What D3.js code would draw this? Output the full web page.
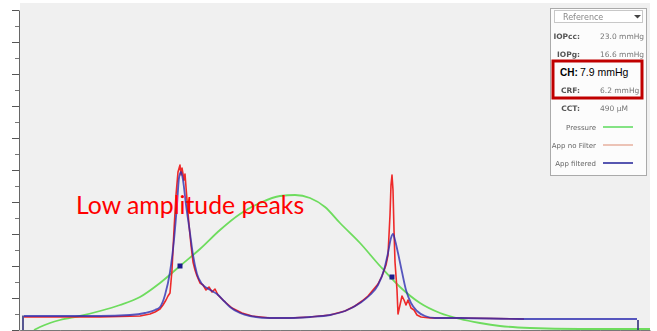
<!DOCTYPE html>
<html>
<head>
<meta charset="utf-8">
<script src="https://cdn.jsdelivr.net/npm/d3@7"></script>
<style>
  html, body { margin: 0; padding: 0; background: #ffffff; overflow: hidden; }
  svg { display: block; }
</style>
</head>
<body>
<svg id="chart" width="657" height="331"></svg>
<script>
// Waveform samples: [sample index, signal value]
const pressureCurve = [
  [7, 0], [10, 3.75], [15, 8.75], [20, 12.5], [30, 17.5], [40, 23.75], [50, 31.25],
  [60, 41.25], [70, 58.75], [80, 80], [90, 101.25], [100, 125], [110, 145],
  [120, 158.75], [130, 167.5], [137.5, 168.75], [145, 165], [152.5, 153.75],
  [160, 133.75], [170, 108.75], [180, 80], [190, 53.75], [200, 33.75], [210, 21.25],
  [220, 13.75], [230, 8.75], [240, 5], [255, 2.5], [280, 1.25], [315, 1.25]
];

const applanationRaw = [
  [2, 16.25], [40, 16.25], [60, 17.5], [65, 20], [67.5, 22.5], [70, 26.25],
  [71.5, 31.25], [73, 37.5], [74, 42.5], [75, 46.25], [76, 75], [77, 125],
  [78, 168.75], [79, 197.5], [80, 206.25], [80.5, 193.75], [81, 202.5], [82, 187.5],
  [82.5, 195], [83.5, 162.5], [84.5, 131.25], [85.5, 106.25], [86.5, 85], [87.5, 75],
  [88.5, 67.5], [90, 58.75], [91.5, 56.25], [93, 50], [94.5, 53.75], [96, 47.5],
  [97.5, 51.25], [99, 43.75], [102, 36.25], [106, 27.5], [111, 21.25], [116, 17.5],
  [125, 15], [135, 15], [145, 16.25], [155, 18.75], [162.5, 23.75], [167.5, 30],
  [171, 36.25], [174, 42.5], [176.5, 50], [179, 57.5], [181, 67.5], [183, 81.25],
  [184, 93.75], [185, 143.75], [185.5, 181.25], [186, 193.75], [186.5, 175],
  [187, 125], [187.5, 85], [188.5, 50], [189, 20], [190, 31.25], [191, 42.5],
  [192, 37.5], [193, 31.25], [194, 37.5], [195.5, 27.5], [197, 25], [198.5, 18.75],
  [200.5, 16.25], [205, 15], [220, 15], [252, 13.75]
];

const applanationFiltered = [
  [2, 17.5], [20, 17.5], [40, 17.5], [55, 18.75], [62.5, 21.25], [67.5, 25],
  [70, 28.75], [72.5, 43.75], [75, 72.5], [77, 112.5], [78.5, 156.25], [79.5, 190],
  [80.5, 197.5], [81.5, 187.5], [83, 156.25], [85, 121.25], [86.5, 93.75], [88.5, 70],
  [91, 57.5], [93.5, 52.5], [96, 48.75], [98.5, 45], [102, 36.25], [105, 28.75],
  [110, 21.25], [115, 17.5], [125, 15], [135, 15], [145, 16.25], [155, 18.75],
  [162.5, 23.75], [170, 33.75], [175, 43.75], [179, 56.25], [182, 75], [184, 96.25],
  [185.5, 115], [186.5, 120], [187.5, 112.5], [189, 96.25], [191, 72.5], [193, 50],
  [195.5, 33.75], [198.5, 23.75], [202.5, 17.5], [207.5, 15], [220, 15],
  [250, 13.75], [280, 13.75], [308.5, 13.75]
];

// Applanation event markers on the filtered signal
const applanationPoints = [[80, 80], [186, 66.25]];

// Measurement window cursors: [sample, top value]
const cursorMarks = [[1.5, 18], [309, 12.5]];

// Y tick values (minor every 20, major every 40)
const minorTicks = d3.range(0, 401, 20);
const majorTicks = d3.range(0, 401, 40);

// Legend content
const readingLabels = ["IOPcc:", "IOPg:", "CH:", "CRF:", "CCT:"];
const readingValues = ["23.0 mmHg", "16.6 mmHg", "7.9 mmHg", "6.2 mmHg", "490 \u00b5M"];
const seriesNames = ["Pressure", "App no Filter", "App filtered"];
const seriesColors = ["#66dd66", "#e8b4a4", "#2e2e9e"];
const dropdownLabel = "Reference";
const annotationText = "Low amplitude peaks";

const svg = d3.select("#chart");
const plot = { left: 20, right: 650, top: 3, bottom: 330 };

const x = d3.scaleLinear().domain([0, 315]).range([plot.left, plot.right]);
const y = d3.scaleLinear().domain([0, 400]).range([330, 10]);

const defs = svg.append("defs");
defs.append("clipPath").attr("id", "plotClip")
  .append("rect")
  .attr("x", plot.left).attr("y", plot.top)
  .attr("width", plot.right - plot.left).attr("height", plot.bottom - plot.top);
defs.append("filter").attr("id", "soft")
  .append("feGaussianBlur").attr("stdDeviation", 0.55);

// Plot background
svg.append("rect")
  .attr("x", plot.left).attr("y", plot.top)
  .attr("width", plot.right - plot.left).attr("height", plot.bottom - plot.top)
  .attr("fill", "#f0f0f0");

// Left axis: minor then major ticks
const axisG = svg.append("g").attr("transform", `translate(${plot.left - 1},0)`);
axisG.append("g")
  .call(d3.axisLeft(y).tickValues(minorTicks).tickSize(4).tickFormat(""))
  .call(g => g.select(".domain").remove())
  .call(g => g.selectAll("line").attr("stroke", "#777"));
axisG.append("g")
  .call(d3.axisLeft(y).tickValues(majorTicks).tickSize(7).tickFormat("").tickSizeOuter(0))
  .call(g => g.select(".domain").attr("stroke", "#666"))
  .call(g => g.selectAll(".tick line").attr("stroke", "#555"));

// Bottom axis line
svg.append("g")
  .attr("transform", `translate(0,${plot.bottom})`)
  .call(d3.axisBottom(x).ticks(30).tickSize(4).tickFormat("").tickSizeOuter(0))
  .call(g => g.select(".domain").attr("stroke", "#777"))
  .call(g => g.selectAll(".tick line").attr("stroke", "#888"));

const smooth = d3.line()
  .x(d => x(d[0]))
  .y(d => y(d[1]))
  .curve(d3.curveMonotoneX);

const traces = svg.append("g").attr("clip-path", "url(#plotClip)");

traces.append("path")
  .datum(pressureCurve)
  .attr("d", smooth)
  .attr("fill", "none")
  .attr("stroke", "#6edc5e")
  .attr("stroke-width", 1.8);

traces.append("path")
  .datum(applanationRaw)
  .attr("d", d3.line().x(d => x(d[0])).y(d => y(d[1])))
  .attr("fill", "none")
  .attr("stroke", "#ee2a2a")
  .attr("stroke-width", 1.6)
  .attr("stroke-linejoin", "round");

traces.append("path")
  .datum(applanationFiltered)
  .attr("d", smooth)
  .attr("fill", "none")
  .attr("stroke", "#2a2ab0")
  .attr("stroke-opacity", 0.78)
  .attr("stroke-width", 1.8);

traces.selectAll("line.cursor")
  .data(cursorMarks)
  .join("line")
  .attr("class", "cursor")
  .attr("x1", d => x(d[0])).attr("x2", d => x(d[0]))
  .attr("y1", y(0)).attr("y2", d => y(d[1]))
  .attr("stroke", "#30307a")
  .attr("stroke-width", 1.6);

traces.selectAll("rect.event")
  .data(applanationPoints)
  .join("rect")
  .attr("class", "event")
  .attr("x", d => x(d[0]) - 2.5)
  .attr("y", d => y(d[1]) - 2.5)
  .attr("width", 5).attr("height", 5)
  .attr("fill", "#1c1c8c");

// Annotation
svg.append("text")
  .attr("x", 76).attr("y", 214)
  .attr("font-family", "Lato, 'Open Sans', sans-serif")
  .attr("font-size", 24.8)
  .attr("fill", "#ff0000")
  .text(annotationText);

// Legend panel
const lg = svg.append("g");
lg.append("rect")
  .attr("x", 550.5).attr("y", 8.5).attr("width", 96).attr("height", 167)
  .attr("fill", "#fcfcfc").attr("stroke", "#aaaaaa");
lg.append("rect")
  .attr("x", 554.5).attr("y", 10.5).attr("width", 88).attr("height", 12)
  .attr("fill", "#ffffff").attr("stroke", "#c8c8c8");
lg.append("text")
  .attr("x", 563).attr("y", 19.5)
  .attr("font-family", "'DejaVu Sans', sans-serif").attr("font-size", 8)
  .attr("fill", "#888").attr("filter", "url(#soft)")
  .text(dropdownLabel);
lg.append("path")
  .attr("d", "M634,15 L641,15 L637.5,18.5 Z")
  .attr("fill", "#444");

const rowY = [36, 54, 72, 90, 108];
readingLabels.forEach((lab, i) => {
  if (lab === "CH:") return;
  lg.append("text")
    .attr("x", 580).attr("y", rowY[i] + 3).attr("text-anchor", "end")
    .attr("font-family", "'DejaVu Sans', sans-serif").attr("font-size", 7.5)
    .attr("font-weight", "bold").attr("fill", "#555").attr("filter", "url(#soft)")
    .text(lab);
  lg.append("text")
    .attr("x", 600).attr("y", rowY[i] + 3)
    .attr("font-family", "'DejaVu Sans', sans-serif").attr("font-size", 7.5)
    .attr("fill", "#777").attr("filter", "url(#soft)")
    .text(readingValues[i]);
});

// Highlighted hysteresis reading
const chIdx = readingLabels.indexOf("CH:");
lg.append("text")
  .attr("x", 560).attr("y", rowY[chIdx] + 4)
  .attr("font-family", "'Liberation Sans', Arial, sans-serif").attr("font-size", 10)
  .attr("font-weight", "bold").attr("fill", "#000")
  .text(readingLabels[chIdx]);
lg.append("text")
  .attr("x", 580).attr("y", rowY[chIdx] + 4)
  .attr("font-family", "'Liberation Sans', Arial, sans-serif").attr("font-size", 10.5)
  .attr("fill", "#000")
  .text(readingValues[chIdx]);

lg.append("rect")
  .attr("x", 553).attr("y", 61).attr("width", 89).attr("height", 37)
  .attr("fill", "none").attr("stroke", "#c00000").attr("stroke-width", 3);

const serY = [127, 145, 163];
seriesNames.forEach((name, i) => {
  lg.append("text")
    .attr("x", 596).attr("y", serY[i] + 3).attr("text-anchor", "end")
    .attr("font-family", "'DejaVu Sans', sans-serif").attr("font-size", 7)
    .attr("fill", "#666").attr("filter", "url(#soft)")
    .text(name);
  lg.append("line")
    .attr("x1", 603).attr("x2", 633).attr("y1", serY[i]).attr("y2", serY[i])
    .attr("stroke", seriesColors[i]).attr("stroke-width", 1.6);
});
</script>
</body>
</html>
